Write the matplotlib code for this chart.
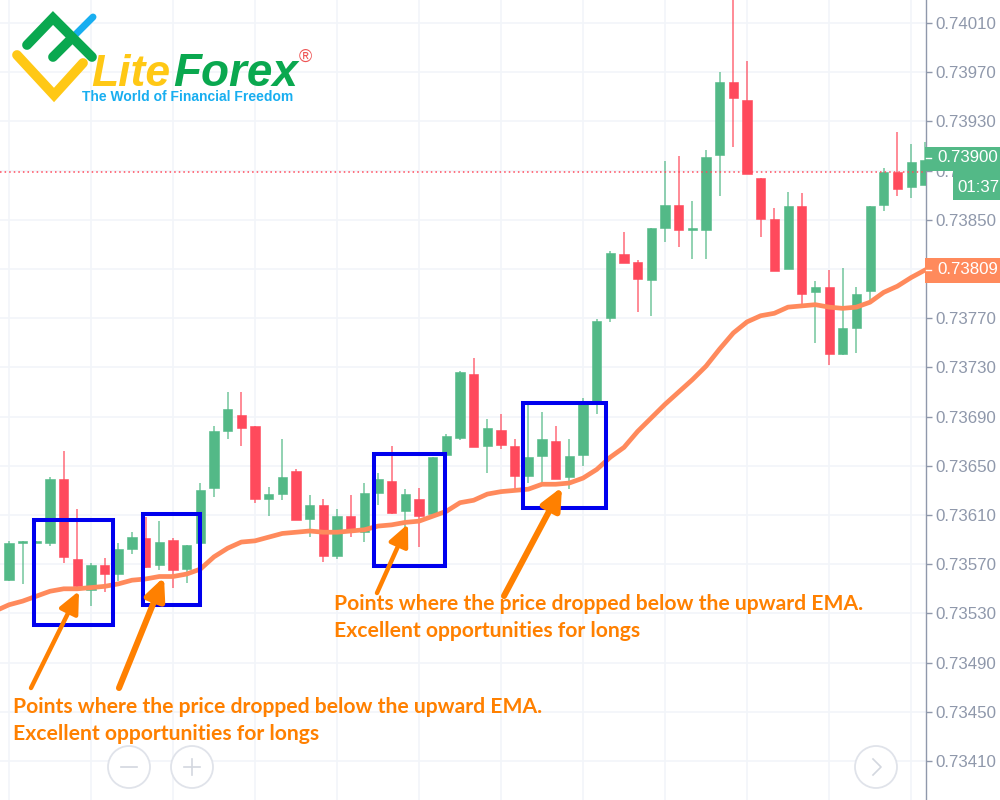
import matplotlib
matplotlib.use('Agg')
import matplotlib.pyplot as plt
from matplotlib.patches import Rectangle, Circle

# price values in 1e-5 units
opens = [73557, 73587, 73587, 73587, 73639, 73574, 73549, 73569, 73562, 73582, 73591, 73569,
         73590, 73566, 73587, 73632, 73678, 73691, 73682, 73623, 73627, 73646, 73607, 73618,
         73577, 73609, 73596, 73628, 73638, 73613, 73623, 73611, 73659, 73673, 73725, 73666,
         73679, 73666, 73642, 73658, 73670, 73641, 73659, 73702, 73770, 73822, 73816, 73801,
         73843, 73862, 73842, 73842, 73903, 73962, 73947, 73884, 73851, 73810, 73861, 73791,
         73795, 73741, 73762, 73792, 73862, 73889, 73877, 73878]
closes = [73587, 73589, 73589, 73639, 73576, 73552, 73569, 73562, 73582, 73592, 73568, 73588,
          73565, 73586, 73630, 73678, 73696, 73681, 73623, 73627, 73641, 73606, 73618, 73577,
          73609, 73599, 73628, 73639, 73612, 73627, 73609, 73657, 73674, 73726, 73665, 73681,
          73667, 73642, 73657, 73672, 73639, 73658, 73701, 73768, 73823, 73815, 73802, 73843,
          73862, 73842, 73843, 73901, 73962, 73949, 73887, 73851, 73808, 73861, 73790, 73795,
          73741, 73762, 73790, 73861, 73889, 73875, 73897, 73899]
highs = [73589, 73589, 73589, 73641, 73662, 73615, 73571, 73575, 73587, 73596, 73608, 73605,
         73591, 73586, 73636, 73682, 73710, 73710, 73682, 73633, 73672, 73647, 73626, 73623,
         73615, 73626, 73636, 73644, 73666, 73631, 73632, 73657, 73676, 73727, 73738, 73688,
         73692, 73672, 73701, 73694, 73682, 73672, 73705, 73769, 73825, 73840, 73817, 73843,
         73898, 73902, 73865, 73907, 73970, 74033, 73979, 73884, 73860, 73873, 73872, 73800,
         73809, 73811, 73795, 73861, 73892, 73921, 73912, 73913]
lows = [73556, 73554, 73587, 73585, 73571, 73549, 73536, 73547, 73556, 73578, 73567, 73565,
        73551, 73555, 73586, 73625, 73672, 73666, 73620, 73609, 73622, 73606, 73592, 73572,
        73574, 73592, 73588, 73618, 73611, 73596, 73584, 73611, 73647, 73671, 73665, 73644,
        73664, 73631, 73636, 73637, 73639, 73631, 73650, 73692, 73767, 73815, 73775, 73772,
        73832, 73828, 73818, 73818, 73869, 73909, 73887, 73836, 73808, 73810, 73781, 73750,
        73732, 73740, 73742, 73785, 73857, 73869, 73868, 73878]
# first value belongs to the bar just left of the chart edge
ema = [73532, 73537, 73540, 73544, 73548, 73550, 73550, 73551, 73552, 73554, 73557, 73558, 73560,
       73560, 73562, 73566, 73576, 73583, 73588, 73589, 73592, 73595, 73596, 73597, 73596,
       73596, 73597, 73598, 73601, 73602, 73604, 73605, 73609, 73613, 73620, 73622, 73627,
       73629, 73630, 73631, 73635, 73635, 73636, 73640, 73647, 73657, 73665, 73678, 73689,
       73700, 73710, 73720, 73731, 73745, 73758, 73767, 73772, 73774, 73779, 73780, 73781,
       73779, 73778, 73779, 73783, 73791, 73796, 73803, 73809]

price_ticks = [74010, 73970, 73930, 73890, 73850, 73810, 73770, 73730, 73690, 73650, 73610,
               73570, 73530, 73490, 73450, 73410]
hidden_tick = 73810  # sits fully under the EMA price tag
last_price = 73889
label_price = '0.73900'
label_ema = '0.73809'
countdown = '01:37'
note_line1 = 'Points where the price dropped below the upward EMA.'
note_line2 = 'Excellent opportunities for longs'

GREEN = '#53b987'
RED = '#ff4a5c'
EMA_COL = '#ff8a5c'
GRID = '#f2f5f9'
AXIS = '#8f98ab'
BLUE = '#0000ee'
ORANGE = '#ff8000'

fig = plt.figure(figsize=(10, 8), dpi=100)

# chart area
ax = fig.add_axes([0, 0, 0.9255, 1])
ax.set_xlim(-0.658, 67.06)
ax.set_ylim(0.733783, 0.740287)
ax.set_xticks(range(0, 68, 6))
ax.set_yticks([p / 1e5 for p in price_ticks])
ax.set_yticklabels(['' if p == hidden_tick else '%.5f' % (p / 1e5) for p in price_ticks])
ax.yaxis.tick_right()
ax.tick_params(axis='y', length=4, width=1, color=AXIS, labelcolor=AXIS, labelsize=12.2, pad=3)
ax.tick_params(axis='x', length=0, labelbottom=False)
for lbl in ax.get_yticklabels():
    lbl.set_family('Liberation Sans')
ax.grid(True, color=GRID, lw=1.2)
ax.set_axisbelow(True)
for s in ['top', 'left', 'bottom']:
    ax.spines[s].set_visible(False)
ax.spines['right'].set_color(AXIS)
ax.spines['right'].set_linewidth(1)

for i in range(len(opens)):
    col = GREEN if closes[i] >= opens[i] else RED
    ax.vlines(i, lows[i] / 1e5, highs[i] / 1e5, color=col, lw=1.2, alpha=0.75, zorder=2)
    bottom = min(opens[i], closes[i]) / 1e5
    height = abs(closes[i] - opens[i]) / 1e5
    ax.add_patch(Rectangle((i - 0.33, bottom), 0.66, height, fc=col, ec=col, lw=0.4, zorder=3))

ax.plot(range(-1, len(ema) - 1), [e / 1e5 for e in ema], color=EMA_COL, lw=3.4, zorder=4)
ax.axhline(last_price / 1e5, color=RED, lw=1.1, ls=(0, (1, 2)), zorder=4)

# overlay in pixels for labels, logo and hand-drawn notes
ov = fig.add_axes([0, 0, 1, 1], facecolor='none')
ov.set_xlim(0, 1000)
ov.set_ylim(800, 0)
ov.axis('off')

ov.add_patch(Rectangle((925, 147), 75, 24, fc=GREEN, ec='none'))
ov.add_patch(Rectangle((953, 171), 47, 29, fc=GREEN, ec='none'))
ov.add_patch(Rectangle((925, 258), 75, 25, fc=EMA_COL, ec='none'))
ov.plot([926, 931], [158, 158], color='white', lw=1)
ov.plot([926, 931], [270, 270], color='white', lw=1)
for txt, x, y in [(label_price, 937, 158), (countdown, 957, 187), (label_ema, 937, 270)]:
    ov.text(x, y, txt, color='white', fontsize=12.2, family='Liberation Sans', va='center', ha='left')

# zoom buttons
for cx in [129, 192, 876]:
    ov.add_patch(Circle((cx, 767), 21, fc='white', ec='#e0e3ea', lw=1.3))
ov.plot([121, 137], [767, 767], color='#d3d7df', lw=1.2)
ov.plot([184, 200], [767, 767], color='#d3d7df', lw=1.2)
ov.plot([192, 192], [759, 775], color='#d3d7df', lw=1.2)
ov.plot([873, 881, 873], [759, 767, 775], color='#d3d7df', lw=1.2)

# blue boxes
for x0, y0, x1, y1 in [(34, 520, 113, 625), (143, 514, 200, 605), (374, 454, 445, 566), (523, 403, 606, 508)]:
    ov.add_patch(Rectangle((x0, y0), x1 - x0, y1 - y0, fc='none', ec=BLUE, lw=2.9, zorder=5))

# arrows: tail, tip, shaft width
for tail, tip, w in [((31, 688), (79, 591), 3.2), ((119, 688), (164, 577), 4.4),
                     ((377, 593), (408, 524), 3.2), ((504, 596), (562, 487), 4.4)]:
    ov.annotate('', xy=tip, xytext=tail, zorder=6,
                arrowprops=dict(arrowstyle='-|>,head_length=1.3,head_width=0.6', color=ORANGE, lw=w,
                                shrinkA=0, shrinkB=0, capstyle='round'))

# notes
for x, y1, y2 in [(13, 707, 734), (334, 604, 631)]:
    ov.text(x, y1, note_line1, color=ORANGE, fontsize=15.2, family='Lato', weight='bold', va='center', zorder=6)
    ov.text(x, y2, note_line2, color=ORANGE, fontsize=15.2, family='Lato', weight='bold', va='center', zorder=6)

# logo
ov.plot([75, 93], [35, 17], color='#18aef0', lw=5, solid_capstyle='round', zorder=6)
ov.plot([27, 53, 92], [45, 18, 57], color='#0aa84f', lw=7, solid_capstyle='round', solid_joinstyle='miter', zorder=7)
ov.plot([53, 72], [57, 38], color='#0aa84f', lw=7, solid_capstyle='round', zorder=7)
ov.plot([17, 54, 83], [55, 95, 63], color='#ffc815', lw=7, solid_capstyle='round', solid_joinstyle='miter', zorder=7)
ov.text(91, 86, 'Lite', color='#ffc815', fontsize=32, family='Liberation Sans', weight='bold', style='italic',
        va='baseline', zorder=7)
ov.text(173, 86, 'Forex', color='#0aa84f', fontsize=33, family='Liberation Sans', weight='bold', style='italic',
        va='baseline', zorder=7)
ov.text(305, 57, '®', color='#ee5555', fontsize=13, family='Liberation Sans', ha='center', va='center', zorder=7)
ov.text(82, 97, 'The World of Financial Freedom', color='#18aef0', fontsize=10, family='Liberation Sans',
        weight='bold', va='center', zorder=7)

fig.savefig('out.png', dpi=100)
